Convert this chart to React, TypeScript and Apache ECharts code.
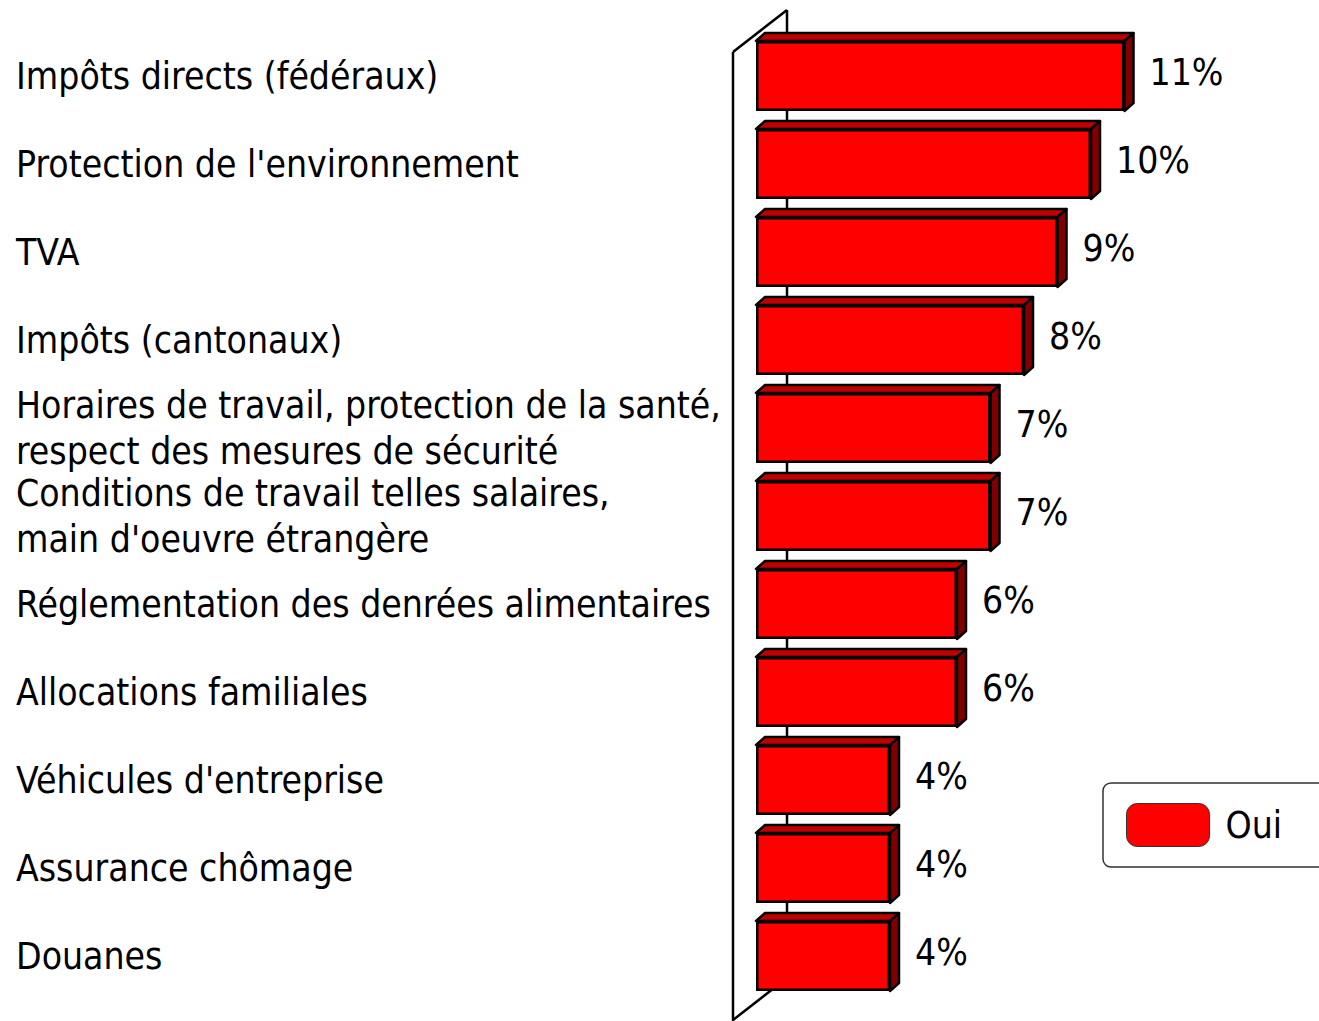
import React, { useEffect, useRef } from "react";
import * as echarts from "echarts";

const categories = [
  "Impôts directs (fédéraux)",
  "Protection de l'environnement",
  "TVA",
  "Impôts (cantonaux)",
  "Horaires de travail, protection de la santé,\nrespect des mesures de sécurité",
  "Conditions de travail telles salaires,\nmain d'oeuvre étrangère",
  "Réglementation des denrées alimentaires",
  "Allocations familiales",
  "Véhicules d'entreprise",
  "Assurance chômage",
  "Douanes",
];
const values = [11, 10, 9, 8, 7, 7, 6, 6, 4, 4, 4];
const seriesName = "Oui";

const FONT = "'Liberation Sans Narrow', 'Arial Narrow', 'DejaVu Sans Condensed', sans-serif";

export default function App() {
  const ref = useRef<HTMLDivElement>(null);
  useEffect(() => {
    if (!ref.current) return;
    const chart = echarts.init(ref.current, null, { renderer: "svg" });
    const gridLeft = 756;
    const gridTop = 32;
    const gridHeight = 968;
    const dx = 9;
    const dy = 8;
    const option: any = {
      animation: false,
      backgroundColor: "#ffffff",
      grid: { left: gridLeft, top: gridTop, height: gridHeight, right: 27, containLabel: false },
      xAxis: { type: "value", min: 0, max: 16, show: false },
      yAxis: {
        type: "category",
        data: categories,
        inverse: true,
        axisLine: { show: false },
        axisTick: { show: false },
        axisLabel: {
          align: "left",
          margin: gridLeft - 16,
          fontFamily: FONT,
          fontSize: 37,
          color: "#000",
          lineHeight: 46,
        },
      },
      legend: {
        left: 1103,
        top: 783,
        orient: "horizontal",
        data: [
          {
            name: seriesName,
            icon: "roundRect",
            itemStyle: { color: "#ff0000", borderColor: "#333", borderWidth: 1 },
          },
        ],
        itemWidth: 83,
        itemHeight: 43,
        itemGap: 16,
        padding: [20, 80, 20, 23],
        borderColor: "#333",
        borderWidth: 1.5,
        borderRadius: 8,
        textStyle: { fontFamily: FONT, fontSize: 37, color: "#000", padding: [0, 0, 0, 11] },
      },
      graphic: [
        { type: "line", z: 0, shape: { x1: 787, y1: 10, x2: 787, y2: 978 }, style: { stroke: "#000", lineWidth: 2.5 } },
        { type: "line", z: 0, shape: { x1: 733, y1: 1020, x2: 787, y2: 978 }, style: { stroke: "#000", lineWidth: 2.5 } },
        { type: "line", z: 0, shape: { x1: 733, y1: 52, x2: 787, y2: 10 }, style: { stroke: "#000", lineWidth: 2.5 } },
        { type: "line", z: 0, shape: { x1: 733, y1: 52, x2: 733, y2: 1021 }, style: { stroke: "#000", lineWidth: 2.5 } },
      ],
      series: [
        {
          name: "faces",
          type: "custom",
          z: 3,
          data: values.map((v, i) => [v, i]),
          renderItem: (params: any, api: any) => {
            const v = api.value(0);
            const idx = api.value(1);
            const p0 = api.coord([0, idx]);
            const p1 = api.coord([v, idx]);
            const band = api.size([0, 1])[1];
            const h = band * (70 / 88);
            const yTop = p0[1] - h / 2;
            const yBot = p0[1] + h / 2;
            const x0 = p0[0];
            const x1 = p1[0];
            return {
              type: "group",
              children: [
                {
                  type: "polygon",
                  shape: { points: [[x0, yTop], [x1, yTop], [x1 + dx, yTop - dy], [x0 + dx, yTop - dy]] },
                  style: { fill: "#c00000", stroke: "#000", lineWidth: 2.5, lineJoin: "round" },
                },
                {
                  type: "polygon",
                  shape: { points: [[x1, yTop], [x1 + dx, yTop - dy], [x1 + dx, yBot - dy], [x1, yBot]] },
                  style: { fill: "#800000", stroke: "#000", lineWidth: 2.5, lineJoin: "round" },
                },
              ],
            };
          },
        },
        {
          name: seriesName,
          type: "bar",
          z: 4,
          data: values,
          barWidth: "79.5%",
          itemStyle: { color: "#ff0000", borderColor: "#000", borderWidth: 2.5 },
          label: {
            show: true,
            position: "right",
            distance: 25,
            offset: [0, -4],
            formatter: "{c}%",
            fontFamily: FONT,
            fontSize: 37,
            color: "#000",
          },
        },
      ],
    };
    chart.setOption(option);
    return () => chart.dispose();
  }, []);
  return <div ref={ref} style={{ position: "fixed", left: 0, top: 0, width: 1319, height: 1021 }} />;
}
